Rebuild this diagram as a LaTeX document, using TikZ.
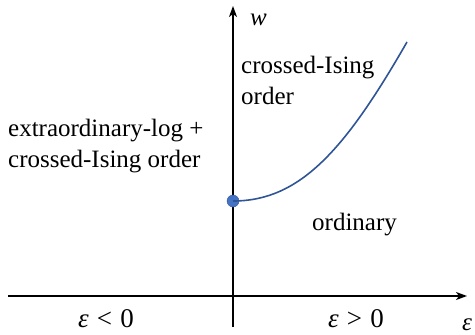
\documentclass[tikz,border=0pt]{standalone}
\usepackage{fontspec}
\setmainfont{Liberation Serif}
\newfontfamily\timesfont{Liberation Serif}
\usetikzlibrary{arrows.meta}

\definecolor{curveblue}{HTML}{2F5597}
\definecolor{dotblue}{HTML}{4472C4}

\begin{document}
\begin{tikzpicture}[x=1pt,y=-1pt,
    axis/.style={line width=1.4pt,-{Stealth[length=11pt,width=8pt,inset=3pt]}},
    lbl/.style={font=\timesfont\fontsize{25}{31}\selectfont,inner sep=0pt,anchor=base west,align=left},
    sgn/.style={font=\timesfont\fontsize{27}{31}\selectfont,inner sep=0pt,anchor=base}]

    \useasboundingbox (0,0) rectangle (475,335);

    % Axes
    \coordinate (wbot) at (233,327);
    \coordinate (wtop) at (233,6);
    \coordinate (ebeg) at (8,296);
    \coordinate (eend) at (467,296);
    \draw[axis] (wbot) -- (wtop);
    \draw[axis] (ebeg) -- (eend);
    \node[lbl] (wlab) at (250,25) {\itshape w};
    \node[lbl] (elab) at (462,330) {\itshape ε};

    % Sign of epsilon
    \node[sgn] (eneg) at (106,327) {{\itshape ε}\hspace{0.3em}<\hspace{0.3em}0};
    \node[sgn] (epos) at (356,327) {{\itshape ε}\hspace{0.3em}>\hspace{0.3em}0};

    % Phase boundary
    \node[circle,fill=dotblue,draw=curveblue,line width=0.4pt,inner sep=0pt,minimum size=12pt] (crit) at (233,201) {};
    \coordinate (bend) at (407,42);
    \draw[curveblue,line width=1.6pt] (crit.center) .. controls (300,201) and (345,150) .. (bend);

    % Phases (base = last line)
    \node[lbl] (cross) at (241,104) {crossed-Ising\\order};
    \node[lbl] (extra) at (8,167) {extraordinary-log +\\crossed-Ising order};
    \node[lbl] (ordin) at (312,230) {ordinary};

\end{tikzpicture}
\end{document}
